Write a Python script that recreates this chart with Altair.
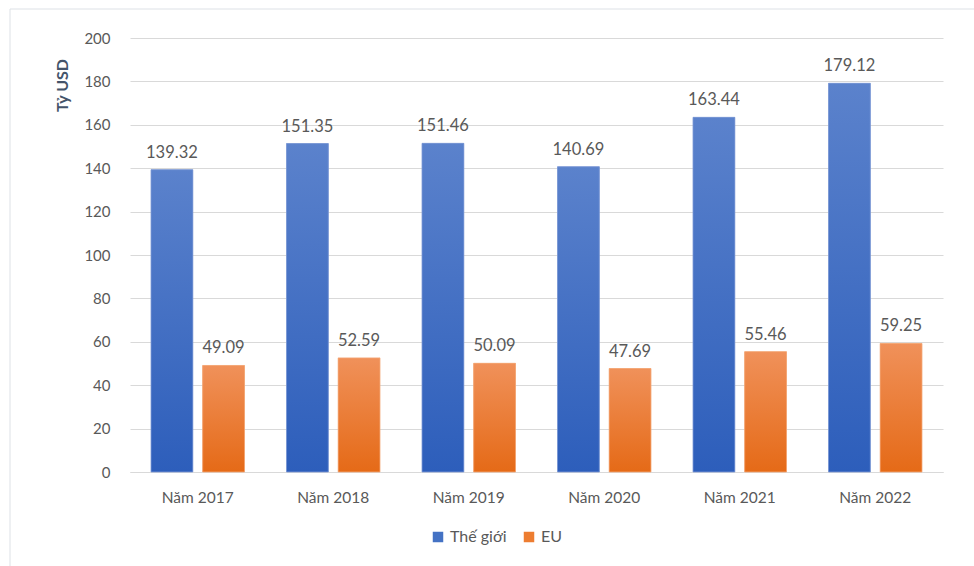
import altair as alt
import pandas as pd

years = ["Năm 2017", "Năm 2018", "Năm 2019", "Năm 2020", "Năm 2021", "Năm 2022"]
series = ["Thế giới", "EU"]
world = [139.32, 151.35, 151.46, 140.69, 163.44, 179.12]
eu = [49.09, 52.59, 50.09, 47.69, 55.46, 59.25]

rows = []
for i, y in enumerate(years):
    rows.append({"year": y, "series": series[0], "value": world[i]})
    rows.append({"year": y, "series": series[1], "value": eu[i]})
df = pd.DataFrame(rows)

FONT = "Lato"
GREY = "#595959"
BLUE = "#4472C4"
ORANGE = "#ED7D31"

x_enc = alt.X("year:N", sort=years, title=None,
              scale=alt.Scale(paddingInner=0.31, paddingOuter=0.155),
              axis=alt.Axis(labelAngle=0, labelFontSize=15.5, labelColor=GREY,
                            labelFont=FONT, labelPadding=18, ticks=False,
                            domain=True, domainColor="#D9D9D9", grid=False))
xo_enc = alt.XOffset("series:N", sort=series,
                     scale=alt.Scale(domain=series, paddingInner=0.19, paddingOuter=0))
y_enc = alt.Y("value:Q", scale=alt.Scale(domain=[0, 200]),
              axis=alt.Axis(values=list(range(0, 201, 20)), title="Tỷ USD",
                            titleFont=FONT, titleFontSize=16, titleFontWeight="bold",
                            titleColor="#44546A", titleAngle=-90, titleAlign="center",
                            titleBaseline="middle", titleX=-68, titleY=47,
                            labelFont=FONT, labelFontSize=15, labelColor=GREY,
                            labelPadding=20, ticks=False, domain=False,
                            gridColor="#D9D9D9", gridWidth=1))

base = alt.Chart(df)

# solid bars carry the legend
legend_bars = base.mark_bar().encode(
    x=x_enc, xOffset=xo_enc, y=y_enc,
    color=alt.Color("series:N", sort=series,
                    scale=alt.Scale(domain=series, range=[BLUE, ORANGE]),
                    legend=alt.Legend(title=None, orient="none", direction="horizontal",
                                      legendX=300, legendY=491, symbolType="square",
                                      symbolSize=110, labelFont=FONT, labelFontSize=16,
                                      labelColor=GREY, columnPadding=14, labelOffset=4)),
)

blue_grad = alt.Gradient(gradient="linear", x1=0, y1=0, x2=0, y2=1,
                         stops=[alt.GradientStop(color="#5B82CC", offset=0),
                                alt.GradientStop(color="#2D5EBB", offset=1)])
orange_grad = alt.Gradient(gradient="linear", x1=0, y1=0, x2=0, y2=1,
                           stops=[alt.GradientStop(color="#F0915A", offset=0),
                                  alt.GradientStop(color="#E56A17", offset=1)])

world_bars = base.transform_filter(alt.datum.series == series[0]).mark_bar(
    color=blue_grad, stroke="#7F9BD6", strokeWidth=0.8).encode(x=x_enc, xOffset=xo_enc, y=y_enc)
eu_bars = base.transform_filter(alt.datum.series == series[1]).mark_bar(
    color=orange_grad, stroke="#F4A878", strokeWidth=0.8).encode(x=x_enc, xOffset=xo_enc, y=y_enc)

labels = base.mark_text(baseline="bottom", dy=-9, fontSize=16.5, font=FONT, color=GREY).encode(
    x=x_enc, xOffset=xo_enc, y=y_enc, text=alt.Text("value:Q", format=".2f"))

# left and top edges of a light frame around the whole chart
frame_left = alt.Chart(pd.DataFrame({"k": [0]})).mark_rule(
    color="#DDE1E6", strokeWidth=1).encode(
    x=alt.value(-120), y=alt.value(-29), y2=alt.value(700))
frame_top = alt.Chart(pd.DataFrame({"k": [0]})).mark_rule(
    color="#DDE1E6", strokeWidth=1).encode(
    x=alt.value(-120), x2=alt.value(1000), y=alt.value(-29))

chart = alt.layer(legend_bars, world_bars, eu_bars, labels, frame_left, frame_top).properties(
    width=813, height=434,
    autosize=alt.AutoSizeParams(type="none"),
    padding={"left": 130, "top": 38, "right": 31, "bottom": 94},
).configure(
    background="white",
    view=alt.ViewConfig(stroke="transparent", strokeWidth=0),
    axisX=alt.AxisConfig(grid=False),
    axisY=alt.AxisConfig(domain=False),
)

chart.save("out.html", embed_options={"renderer": "svg", "actions": False})
